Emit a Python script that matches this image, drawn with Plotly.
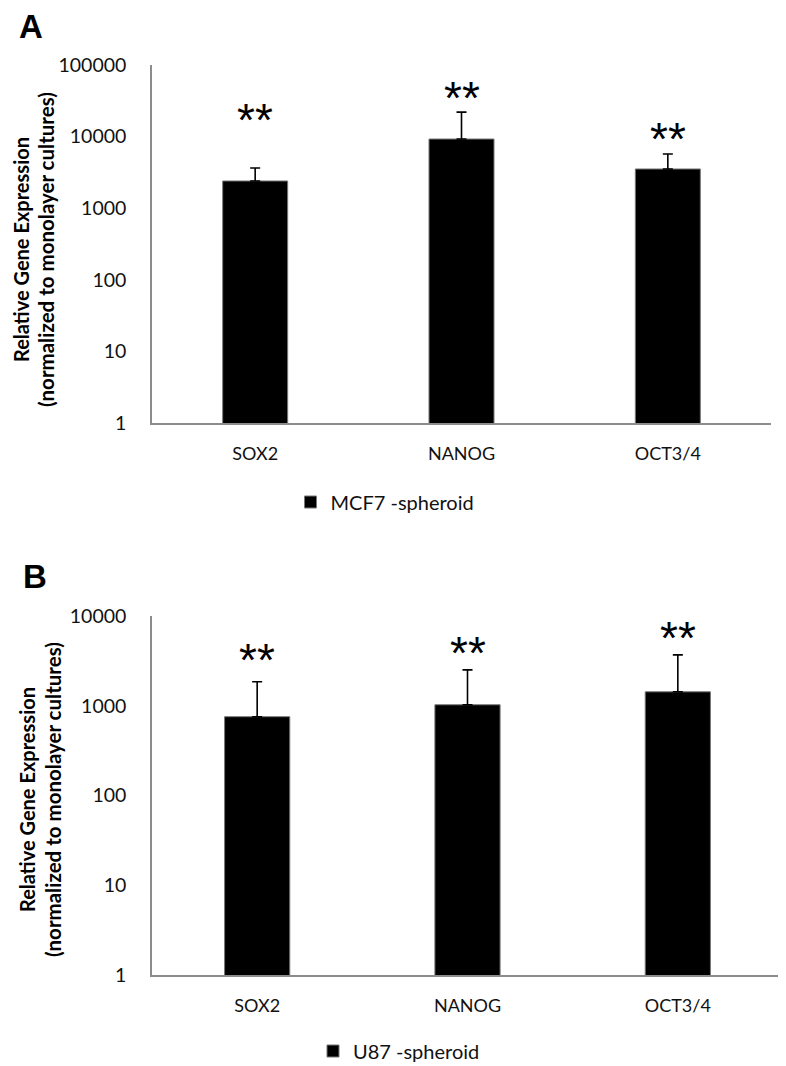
import plotly.graph_objects as go

genes = ["SOX2", "NANOG", "OCT3/4"]

mcf7_mean = [2400, 9250, 3530]
mcf7_upper = [3650, 22000, 5710]
mcf7_star_y = [4.23, 4.54, 3.97]  # log10 positions of significance marks

u87_mean = [755, 1026, 1430]
u87_upper = [1850, 2510, 3690]
u87_star_y = [3.51, 3.587, 3.755]

stars = ["**", "**", "**"]

a_ticks = [1, 10, 100, 1000, 10000, 100000]
b_ticks = [1, 10, 100, 1000, 10000]

# page is offset by the browser's default 8px body margin
OFF = 8
W, H = 786 - OFF, 1066 - OFF
L, R = 152 - OFF, 3
PW = W - L - R


def px(p):
    return (p - OFF - L) / PW


def py(p):
    return 1 - (p - OFF) / H


FONT = "Lato"

fig = go.Figure()

fig.add_trace(go.Bar(
    x=genes, y=mcf7_mean, name="MCF7 -spheroid",
    marker=dict(color="black", line=dict(color="#777777", width=1)),
    width=0.315,
    error_y=dict(type="data", symmetric=False,
                 array=[u - m for u, m in zip(mcf7_upper, mcf7_mean)],
                 arrayminus=[0] * 3, color="black", thickness=1.6, width=5),
    xaxis="x", yaxis="y", legend="legend",
))
fig.add_trace(go.Bar(
    x=genes, y=u87_mean, name="U87 -spheroid",
    marker=dict(color="black", line=dict(color="#777777", width=1)),
    width=0.31,
    error_y=dict(type="data", symmetric=False,
                 array=[u - m for u, m in zip(u87_upper, u87_mean)],
                 arrayminus=[0] * 3, color="black", thickness=1.6, width=5),
    xaxis="x2", yaxis="y2", legend="legend2",
))

axis_line = dict(showline=True, linecolor="#8c8c8c", linewidth=1.5,
                 ticks="", showgrid=False, zeroline=False, automargin=False)

fig.update_layout(
    template="none",
    width=W, height=H,
    margin=dict(l=L, r=R, t=0, b=0, autoexpand=False),
    paper_bgcolor="white", plot_bgcolor="white",
    font=dict(family=FONT, color="#111111"),
    showlegend=True,
    xaxis=dict(domain=[0, px(771)], anchor="y", **axis_line,
               tickfont=dict(size=18, family=FONT), ticklabelstandoff=14),
    yaxis=dict(domain=[py(423), py(65)], anchor="x", type="log",
               range=[0, 5], tickvals=a_ticks, ticktext=[str(t) for t in a_ticks],
               tickfont=dict(size=19.5, family=FONT), ticklabelstandoff=20, **axis_line),
    xaxis2=dict(domain=[0, 1], anchor="y2", **axis_line,
                tickfont=dict(size=18, family=FONT), ticklabelstandoff=14),
    yaxis2=dict(domain=[py(975), py(616)], anchor="x2", type="log",
                range=[0, 4], tickvals=b_ticks, ticktext=[str(t) for t in b_ticks],
                tickfont=dict(size=19.5, family=FONT), ticklabelstandoff=20, **axis_line),
    legend=dict(x=px(385), y=py(502), xanchor="center", yanchor="middle",
                font=dict(size=20, family=FONT), bgcolor="rgba(0,0,0,0)"),
    legend2=dict(x=px(399), y=py(1051), xanchor="center", yanchor="middle",
                 font=dict(size=20, family=FONT), bgcolor="rgba(0,0,0,0)"),
)

ann = []
for g, sy, s in zip(genes, mcf7_star_y, stars):
    ann.append(dict(x=g, y=sy, xref="x", yref="y", text=s, showarrow=False,
                    font=dict(size=46, family="Arial", color="black"), yanchor="middle"))
for g, sy, s in zip(genes, u87_star_y, stars):
    ann.append(dict(x=g, y=sy, xref="x2", yref="y2", text=s, showarrow=False,
                    font=dict(size=46, family="Arial", color="black"), yanchor="middle"))

# panel letters
ann.append(dict(x=px(31), y=py(27), xref="paper", yref="paper", text="<b>A</b>",
                xanchor="center", yanchor="middle",
                showarrow=False, font=dict(size=33, family="Arial", color="black")))
ann.append(dict(x=px(35), y=py(576), xref="paper", yref="paper", text="<b>B</b>",
                xanchor="center", yanchor="middle",
                showarrow=False, font=dict(size=33, family="Arial", color="black")))

# y-axis titles
for ycen, x1, x2 in [(250, 21, 46), (800, 27, 53)]:
    ann.append(dict(x=px(x1), y=py(ycen), xref="paper", yref="paper",
                    xanchor="center", yanchor="middle",
                    text="<b>Relative Gene Expression</b>", textangle=-90, showarrow=False,
                    font=dict(size=20, family=FONT, color="black")))
    ann.append(dict(x=px(x2), y=py(ycen), xref="paper", yref="paper",
                    xanchor="center", yanchor="middle",
                    text="<b>(normalized to monolayer cultures)</b>", textangle=-90, showarrow=False,
                    font=dict(size=20.5, family=FONT, color="black")))

fig.update_layout(annotations=ann)
fig.write_html("out.html")
